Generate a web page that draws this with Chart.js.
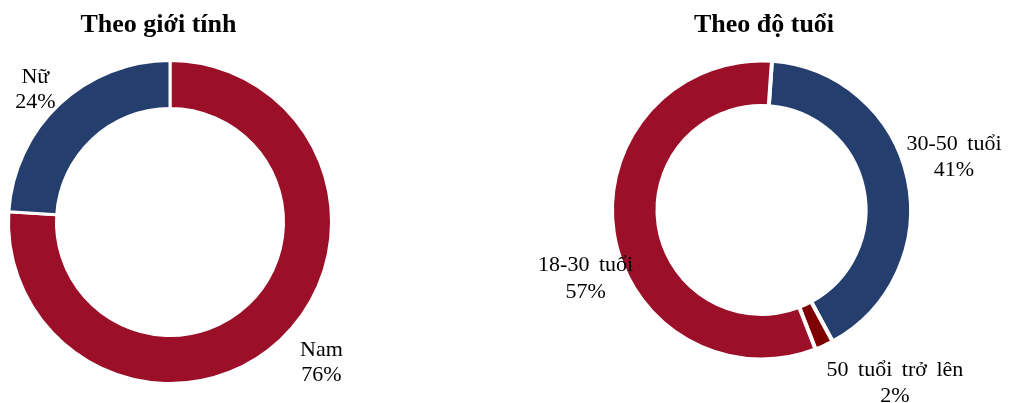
<!DOCTYPE html>
<html lang="vi">
<head>
<meta charset="utf-8">
<title>Theo giới tính / Theo độ tuổi</title>
<script src="https://cdn.jsdelivr.net/npm/chart.js@4/dist/chart.umd.min.js"></script>
<style>
  html, body { margin: 0; padding: 0; background: #ffffff; }
  #wrap { position: relative; width: 1010px; height: 403px; overflow: hidden; }
  #wrap canvas { position: absolute; left: 0; top: 0; }
</style>
</head>
<body>
<div id="wrap">
  <canvas id="genderChart" width="1010" height="403"></canvas>
  <canvas id="ageChart" width="1010" height="403"></canvas>
</div>
<script>
// Gender split
const genderCategories = ['Nam', 'Nữ'];
const genderValues = [76, 24];

// Age split
const ageCategories = ['30-50 tuổi', '50 tuổi trở lên', '18-30 tuổi'];
const ageValues = [41, 2, 57];

const RED = '#9b1028';
const BLUE = '#243e6e';
const DARK_RED = '#7e0000';
const SERIF = '"Liberation Serif", "Times New Roman", "DejaVu Serif", serif';

// Draws the panel title and the two-line "name / percent" labels beside each slice.
const sliceLabels = {
  id: 'sliceLabels',
  afterDatasetsDraw(chart, args, opts) {
    const ctx = chart.ctx;
    const meta = chart.getDatasetMeta(0);
    const ds = chart.data.datasets[0];
    ctx.save();
    ctx.fillStyle = '#000000';
    ctx.textAlign = 'center';
    ctx.textBaseline = 'alphabetic';

    // title
    ctx.font = 'bold 26px ' + SERIF;
    ctx.fillText(opts.title, opts.titleX, opts.titleY);

    // labels
    ctx.font = '22px ' + SERIF;
    if ('wordSpacing' in ctx) ctx.wordSpacing = opts.wordSpacing || '0px';
    meta.data.forEach((arc, i) => {
      const p = arc.getProps(['x', 'y', 'startAngle', 'endAngle'], true);
      const mid = (p.startAngle + p.endAngle) / 2;
      const place = opts.placement[i];
      const ax = p.x + Math.cos(mid) * place.dist + place.dx;
      const ay = p.y + Math.sin(mid) * place.dist + place.dy;
      const gap = opts.lineGap;
      ctx.fillText(chart.data.labels[i], ax, ay - gap / 2);
      ctx.fillText(ds.data[i] + '%', ax, ay + gap / 2);
    });
    ctx.restore();
  }
};

function makeDoughnut(id, labels, values, colors, cfg) {
  return new Chart(document.getElementById(id), {
    type: 'doughnut',
    data: {
      labels: labels,
      datasets: [{
        data: values,
        backgroundColor: colors,
        borderColor: '#ffffff',
        borderWidth: cfg.borderWidth,
        hoverOffset: 0
      }]
    },
    options: {
      responsive: false,
      animation: false,
      events: [],
      rotation: cfg.rotation,
      radius: cfg.radius,
      cutout: cfg.cutout,
      layout: { padding: cfg.padding },
      plugins: {
        legend: { display: false },
        tooltip: { enabled: false },
        title: { display: false },
        sliceLabels: cfg.labels
      }
    },
    plugins: [sliceLabels]
  });
}

makeDoughnut('genderChart', genderCategories, genderValues, [RED, BLUE], {
  borderWidth: 3,
  rotation: 0,
  radius: 161.5,
  cutout: '70.3%',
  padding: { left: 10, right: 680, top: 62, bottom: 21 },
  labels: {
    title: 'Theo giới tính',
    titleX: 158.5,
    titleY: 31.5,
    lineGap: 25,
    wordSpacing: '0px',
    placement: [
      { dist: 211, dx: 7, dy: -7 },
      { dist: 185, dx: -8, dy: 8 }
    ]
  }
});

makeDoughnut('ageChart', ageCategories, ageValues, [BLUE, DARK_RED, RED], {
  borderWidth: 4,
  rotation: 4,
  radius: 149.5,
  cutout: '69.6%',
  padding: { left: 614, right: 101, top: 62.5, bottom: 45.5 },
  labels: {
    title: 'Theo độ tuổi',
    titleX: 764,
    titleY: 31.5,
    lineGap: 26.5,
    wordSpacing: '4px',
    placement: [
      { dist: 198, dx: -1, dy: -5 },
      { dist: 218, dx: 42, dy: -19 },
      { dist: 185, dx: 7, dy: 47 }
    ]
  }
});
</script>
</body>
</html>
